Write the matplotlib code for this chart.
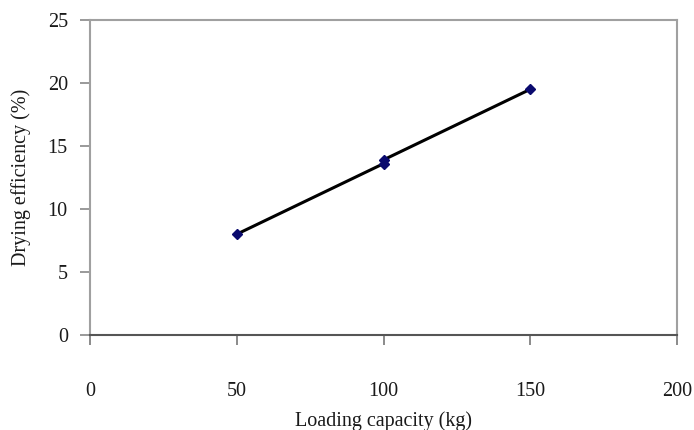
import matplotlib
matplotlib.use("Agg")
import matplotlib.pyplot as plt

loading_kg = [50, 100, 100, 150]
efficiency_pct = [8.0, 13.6, 13.9, 19.5]
x_ticks = [0, 50, 100, 150, 200]
y_ticks = [0, 5, 10, 15, 20, 25]

plt.rcParams['font.family'] = ['Liberation Serif', 'DejaVu Serif']

fig = plt.figure(figsize=(6.94, 4.30), dpi=100)
ax = fig.add_axes([0.1297, 0.2209, 0.9755 - 0.1297, 0.9535 - 0.2209])

ax.plot(loading_kg, efficiency_pct, color='black', lw=2.2, zorder=2)
ax.plot(loading_kg, efficiency_pct, ls='none', marker='D', ms=5.5,
        color='#0a0a6e', zorder=3)

ax.set_xlim(0, 200)
ax.set_ylim(0, 25)
ax.set_xticks(x_ticks)
ax.set_yticks(y_ticks)

for side in ['left', 'top', 'right']:
    ax.spines[side].set_color('#a0a0a0')
    ax.spines[side].set_linewidth(1.5)
ax.spines['bottom'].set_color('#555555')
ax.spines['bottom'].set_linewidth(1.5)

ax.tick_params(axis='y', direction='out', length=7, width=1.2, color='#888888',
               pad=9, labelsize=14.5, labelcolor='#1a1a1a')
ax.tick_params(axis='x', direction='out', length=7, width=1.2, color='#777777',
               pad=27, labelsize=14.5, labelcolor='#1a1a1a')

ax.set_xlabel('Loading capacity (kg)', fontsize=14.5, color='#1a1a1a', labelpad=7)
ax.set_ylabel('Drying efficiency (%)', fontsize=14.5, color='#1a1a1a', labelpad=12)

fig.savefig('out.png', dpi=100)
